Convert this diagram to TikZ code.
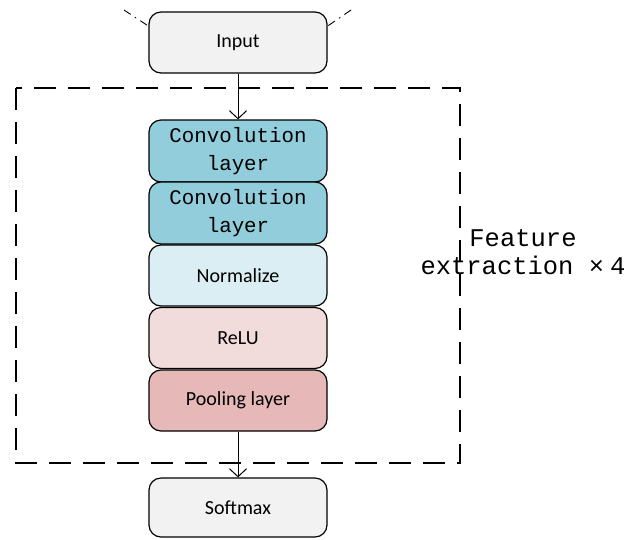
\documentclass[tikz,border=0pt]{standalone}
\usepackage{fontspec}
\setmainfont{Carlito}
\newfontfamily\monofont{Liberation Mono}
\usetikzlibrary{arrows.meta}

\definecolor{boxgrey}{HTML}{F2F2F2}
\definecolor{convblue}{HTML}{92CDDC}
\definecolor{normblue}{HTML}{DAEEF3}
\definecolor{relupink}{HTML}{F2DCDB}
\definecolor{poolrose}{HTML}{E6B9B8}

\tikzset{
  layerbox/.style={draw=black, line width=1.2pt, rounded corners=12pt,
    minimum width=178pt, minimum height=61pt, inner sep=0pt, align=center},
  sanslabel/.style={font=\fontsize{20}{24}\selectfont},
  monolabel/.style={font=\monofont\fontsize{20.8}{28.5}\selectfont},
  flow/.style={line width=1pt, -{Straight Barb[length=8pt,width=17pt,line width=1pt]}},
  loopline/.style={line width=0.9pt, dash pattern=on 8pt off 5pt on 1.5pt off 5pt},
}

\begin{document}
\begin{tikzpicture}[x=1pt, y=-1pt]
  \useasboundingbox (0,0) rectangle (644,539);

  % feature-extraction frame
  \draw[line width=1.3pt, dash pattern=on 22pt off 12pt] (16,88) rectangle (460,463);

  % layer stack
  \node[layerbox, fill=boxgrey, sanslabel] (input) at (238,42.5) {Input};
  \node[layerbox, fill=convblue, monolabel, minimum height=62pt] (conv1) at (238,151) {Convolution\\layer};
  \node[layerbox, fill=convblue, monolabel, minimum height=62pt] (conv2) at (238,213) {Convolution\\layer};
  \node[layerbox, fill=normblue, sanslabel] (norm) at (238,275.5) {Normalize};
  \node[layerbox, fill=relupink, sanslabel] (relu) at (238,338) {ReLU};
  \node[layerbox, fill=poolrose, sanslabel] (pool) at (238,400.5) {Pooling layer};
  \node[layerbox, fill=boxgrey, sanslabel, minimum height=59pt] (softmax) at (238,507.5) {Softmax};

  % frame label
  \node[font=\monofont\fontsize{25.5}{27.5}\selectfont, align=center, inner sep=0pt]
    (featlabel) at (523,252) {Feature\\extraction ×\hspace{6pt}4};

  % data flow
  \draw[flow] (input.south) -- (conv1.north);
  \draw[flow] (pool.south) -- (softmax.north);

  % incoming loop lines at the top
  \coordinate (leftin) at (124,10);
  \coordinate (rightin) at (351,10);
  \draw[loopline] (leftin) -- ([xshift=0.5pt,yshift=-15pt]input.north west);
  \draw[loopline] (rightin) -- ([xshift=-0.5pt,yshift=-15pt]input.north east);
\end{tikzpicture}
\end{document}
